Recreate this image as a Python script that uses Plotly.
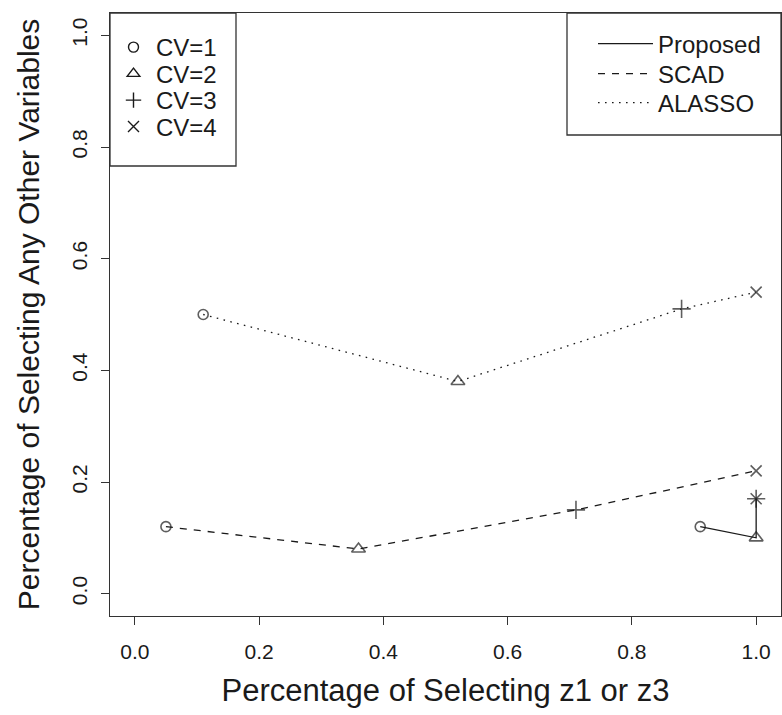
import plotly.graph_objects as go

# Point symbols used for each CV setting (same order as the x/y arrays)
cv_labels = ["CV=1", "CV=2", "CV=3", "CV=4"]
cv_symbols = ["circle-open", "triangle-up-open", "cross-thin-open", "x-thin-open"]
cv_sizes = [10, 12, 13, 11]

# Methods and their line styles
methods = ["Proposed", "SCAD", "ALASSO"]
method_dash = ["solid", "7px,7px", "1.6px,5.4px"]

# Percentage of selecting z1 or z3 (x) vs any other variables (y), CV=1..4
proposed_x = [0.91, 1.00, 1.00, 1.00]
proposed_y = [0.12, 0.10, 0.17, 0.17]
scad_x = [0.05, 0.36, 0.71, 1.00]
scad_y = [0.12, 0.08, 0.15, 0.22]
alasso_x = [0.11, 0.52, 0.88, 1.00]
alasso_y = [0.50, 0.38, 0.51, 0.54]

tick_vals = [0.0, 0.2, 0.4, 0.6, 0.8, 1.0]
tick_text = ["0.0", "0.2", "0.4", "0.6", "0.8", "1.0"]

INK = "#1a1a1a"
FONT = "Liberation Sans, Arial, Helvetica, sans-serif"

W, H = 782, 715
ML, MR, MT, MB = 110, 1, 13, 99
PW, PH = W - ML - MR, H - MT - MB


def px_x(p):
    return (p - ML) / PW


def px_y(p):
    return 1 - (p - MT) / PH


fig = go.Figure()

series = [(proposed_x, proposed_y), (scad_x, scad_y), (alasso_x, alasso_y)]
for name, dash, (xs, ys) in zip(methods, method_dash, series):
    fig.add_trace(go.Scatter(
        x=xs, y=ys, mode="lines+markers", name=name, showlegend=False,
        line=dict(color=INK, width=1.3, dash=dash),
        marker=dict(symbol=cv_symbols, size=cv_sizes, color=INK,
                    line=dict(color=INK, width=1.6)),
    ))

# Legend keys: one legend per row so rows can sit on a fixed pitch
legend_layouts = {}
left_rows = [47.5, 74, 100.5, 127]
for i, (lab, sym, sz) in enumerate(zip(cv_labels, cv_symbols, cv_sizes)):
    key = "legend" if i == 0 else f"legend{i + 1}"
    fig.add_trace(go.Scatter(
        x=[None], y=[None], mode="markers", name=lab, legend=key,
        marker=dict(symbol=sym, size=min(sz, 11), color=INK,
                    line=dict(color=INK, width=1.4)),
    ))
    legend_layouts[key] = dict(
        x=px_x(111), y=px_y(left_rows[i]), xanchor="left", yanchor="middle",
        bgcolor="rgba(0,0,0,0)", borderwidth=0, itemwidth=35,
        font=dict(family=FONT, size=24, color=INK),
    )

right_rows = [44, 74, 103]
for j, (name, dash) in enumerate(zip(methods, method_dash)):
    key = f"legend{j + 5}"
    fig.add_trace(go.Scatter(
        x=[None], y=[None], mode="lines", name=name, legend=key,
        line=dict(color=INK, width=1.3, dash=dash),
    ))
    legend_layouts[key] = dict(
        x=px_x(593), y=px_y(right_rows[j]), xanchor="left", yanchor="middle",
        bgcolor="rgba(0,0,0,0)", borderwidth=0, itemwidth=55,
        font=dict(family=FONT, size=24, color=INK),
    )

# Legend frames
frame = dict(type="rect", xref="paper", yref="paper", layer="above",
             line=dict(color="#333333", width=1.3), fillcolor="rgba(0,0,0,0)")
shapes = [
    dict(frame, x0=0, x1=px_x(236), y0=px_y(166), y1=1),
    dict(frame, x0=px_x(567), x1=1, y0=px_y(135), y1=1),
]

axis_common = dict(
    tickvals=tick_vals, ticktext=tick_text, ticks="outside", ticklen=8,
    tickwidth=1.2, tickcolor="#333333", showline=True, mirror=True,
    linecolor="#333333", linewidth=1.3, showgrid=False, zeroline=False,
    automargin=False, tickfont=dict(family=FONT, size=21, color=INK),
)

fig.update_layout(
    width=W, height=H,
    margin=dict(l=ML, r=MR, t=MT, b=MB, pad=0),
    paper_bgcolor="white", plot_bgcolor="white",
    font=dict(family=FONT, color=INK),
    shapes=shapes,
    xaxis=dict(axis_common, range=[-0.04, 1.04], ticklabelstandoff=9,
               title=dict(text="Percentage of Selecting z1 or z3",
                          font=dict(family=FONT, size=31, color=INK), standoff=16)),
    yaxis=dict(axis_common, range=[-0.04, 1.04], tickangle=-90, ticklabelstandoff=5,
               title=dict(text="Percentage of Selecting Any Other Variables",
                          font=dict(family=FONT, size=30, color=INK), standoff=19)),
    **legend_layouts,
)

fig.write_html("out.html")
